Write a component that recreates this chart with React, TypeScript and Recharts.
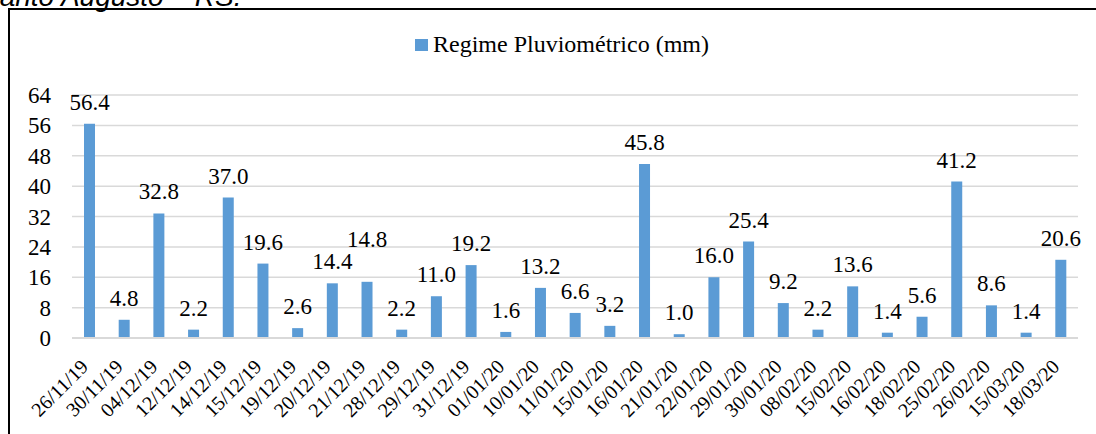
import { BarChart, Bar, XAxis, YAxis, CartesianGrid, Legend, LabelList } from 'recharts';

const dates = [
  '26/11/19', '30/11/19', '04/12/19', '12/12/19', '14/12/19', '15/12/19', '19/12/19', '20/12/19',
  '21/12/19', '28/12/19', '29/12/19', '31/12/19', '01/01/20', '10/01/20', '11/01/20', '15/01/20',
  '16/01/20', '21/01/20', '22/01/20', '29/01/20', '30/01/20', '08/02/20', '15/02/20', '16/02/20',
  '18/02/20', '25/02/20', '26/02/20', '15/03/20', '18/03/20',
];

const rainfall = [
  56.4, 4.8, 32.8, 2.2, 37.0, 19.6, 2.6, 14.4,
  14.8, 2.2, 11.0, 19.2, 1.6, 13.2, 6.6, 3.2,
  45.8, 1.0, 16.0, 25.4, 9.2, 2.2, 13.6, 1.4,
  5.6, 41.2, 8.6, 1.4, 20.6,
];

const yTicks = [0, 8, 16, 24, 32, 40, 48, 56, 64];

const seriesName = 'Regime Pluviométrico (mm)';

const serif = 'Liberation Serif, DejaVu Serif, serif';
const barColor = '#5b9bd5';
const W = 1096;
const H = 434;
const yAxisW = 72;
const rightM = 18;
const labelSize = 23;
const band = (W - yAxisW - rightM) / dates.length;

const data = dates.map((d, i) => ({ date: d, rain: rainfall[i] }));

const fmt = (v: number) => v.toFixed(1);

function YTick({ x, y, payload }: any) {
  return (
    <text x={x} y={y} dy={8} textAnchor="end" style={{ fontFamily: serif }} fontSize={23} fill="#000">
      {payload.value}
    </text>
  );
}

function XTick({ x, y, payload }: any) {
  return (
    <g transform={`translate(${x},${y + 28})`}>
      <text x={0} y={0} textAnchor="end" transform="rotate(-45)" style={{ fontFamily: serif }} fontSize={20} fill="#000">
        {payload.value}
      </text>
    </g>
  );
}

// value label above the bar; lifted when it would collide with the previous one
function BarValue({ x, y, width, height, value, index }: any) {
  let lift = 14;
  if (index > 0 && value > 0) {
    const perUnit = height / value;
    const prevTop = y + height - rainfall[index - 1] * perUnit;
    const wCur = fmt(value).length * 0.45 * labelSize;
    const wPrev = fmt(rainfall[index - 1]).length * 0.45 * labelSize;
    if ((wCur + wPrev) / 2 > band && Math.abs(prevTop - y) < 18) lift += 21;
  }
  return (
    <text x={x + width / 2} y={y - lift} textAnchor="middle" style={{ fontFamily: serif }} fontSize={labelSize} fill="#000">
      {fmt(value)}
    </text>
  );
}

function LegendBox() {
  return (
    <div style={{ display: 'flex', alignItems: 'center', fontFamily: serif, fontSize: 24, color: '#000' }}>
      <span style={{ display: 'inline-block', width: 13, height: 12, background: barColor, marginRight: 5 }} />
      <span>{seriesName}</span>
    </div>
  );
}

export default function App() {
  return (
    <div style={{ position: 'fixed', left: 0, top: 0, width: W, height: H, overflow: 'hidden', background: '#fff' }}>
      {/* caption left over from the page above, clipped at the top */}
      <div
        style={{
          position: 'absolute', left: -19, top: -17, lineHeight: '28px', whiteSpace: 'nowrap',
          fontFamily: 'Liberation Sans, Arial, sans-serif', fontStyle: 'italic', fontSize: 28, color: '#000',
        }}
      >
        Santo Augusto – RS.
      </div>
      <div
        style={{
          position: 'absolute', left: 8, top: 8, width: 1200, height: 500,
          borderLeft: '2px solid #000', borderTop: '2px solid #000',
        }}
      />
      <div style={{ position: 'absolute', left: 0, top: 0 }}>
        <BarChart width={W} height={H} data={data} margin={{ top: 95, right: rightM, left: 0, bottom: 0 }}>
          <CartesianGrid vertical={false} stroke="#d9d9d9" strokeWidth={1.5} />
          <XAxis
            dataKey="date"
            interval={0}
            height={96}
            axisLine={{ stroke: '#d9d9d9', strokeWidth: 2 }}
            tickLine={false}
            tickSize={0}
            tick={<XTick />}
          />
          <YAxis
            domain={[0, 64]}
            ticks={yTicks}
            width={yAxisW}
            axisLine={false}
            tickLine={false}
            tickSize={0}
            tickMargin={21}
            tick={<YTick />}
          />
          <Legend
            verticalAlign="middle"
            align="center"
            layout="horizontal"
            wrapperStyle={{ top: 31, left: 415, width: 330 }}
            content={() => <LegendBox />}
          />
          <Bar dataKey="rain" name={seriesName} fill={barColor} barSize={11} isAnimationActive={false}>
            <LabelList dataKey="rain" content={<BarValue />} />
          </Bar>
        </BarChart>
      </div>
    </div>
  );
}
